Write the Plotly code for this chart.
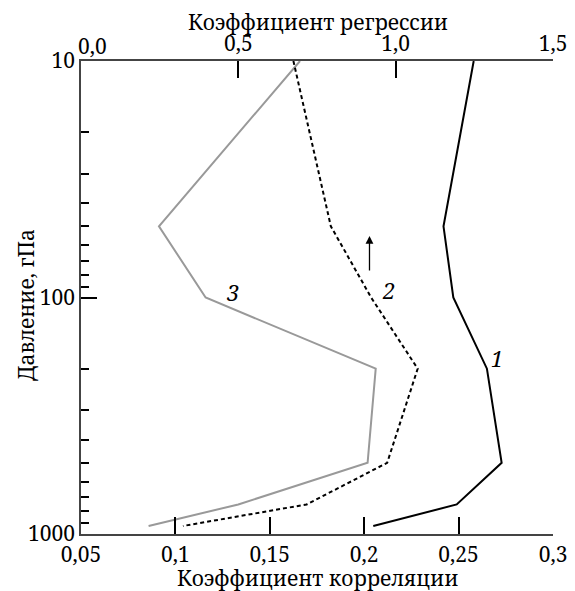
import plotly.graph_objects as go

# Data
levels = [10, 50, 100, 200, 500, 750, 925]          # pressure, hPa
corr_1 = [0.258, 0.242, 0.2472, 0.265, 0.2728, 0.249, 0.2048]  # curve 1 (correlation)
reg_2 = [0.675, 0.794, 0.922, 1.070, 0.973, 0.717, 0.324]      # curve 2 (regression)
corr_3 = [0.166, 0.0913, 0.116, 0.2061, 0.2018, 0.1333, 0.0858]  # curve 3 (correlation)

bottom_ticks = [0.05, 0.1, 0.15, 0.2, 0.25, 0.3]
bottom_text = ["0,05", "0,1", "0,15", "0,2", "0,25", "0,3"]
top_ticks = [0.0, 0.5, 1.0, 1.5]
top_text = ["", "0,5", "1,0", "1,5"]
y_ticks = [10, 100, 1000]
y_minor = [20, 30, 40, 50, 60, 70, 80, 90, 200, 300, 400, 500, 600, 700, 800, 900]

FONT = "Noto Serif"

fig = go.Figure()
fig.add_trace(go.Scatter(x=corr_1, y=levels, mode="lines", xaxis="x", yaxis="y",
                         line=dict(color="black", width=2), showlegend=False))
fig.add_trace(go.Scatter(x=reg_2, y=levels, mode="lines", xaxis="x2", yaxis="y",
                         line=dict(color="black", width=2, dash="4px,3px"), showlegend=False))
fig.add_trace(go.Scatter(x=corr_3, y=levels, mode="lines", xaxis="x", yaxis="y",
                         line=dict(color="#999999", width=2), showlegend=False))

axis_common = dict(showline=True, linecolor="#444444", linewidth=1.5, ticks="inside",
                   tickcolor="black", tickwidth=1.5, showgrid=False, zeroline=False,
                   automargin=False,
                   tickfont=dict(family=FONT, size=21, color="black"))

# page is drawn with an 8px body offset; plot area lands at x 81..553, y 61..534
fig.update_layout(
    width=567, height=583,
    margin=dict(l=73, r=22, t=53, b=57, autoexpand=False),
    paper_bgcolor="white", plot_bgcolor="white",
    font=dict(family=FONT, size=20, color="black"),
    xaxis=dict(range=[0.05, 0.3], tickvals=bottom_ticks, ticktext=bottom_text, ticklen=17,
               ticklabelstandoff=1, **axis_common),
    xaxis2=dict(range=[0, 1.5], overlaying="x", side="top", anchor="y",
                tickvals=top_ticks, ticktext=top_text, ticklen=17,
                ticklabelstandoff=0, **axis_common),
    yaxis=dict(type="log", range=[3, 1], tickvals=y_ticks, ticktext=["10", "100", "1000"],
               ticklen=16, ticklabelstandoff=0,
               minor=dict(tickvals=y_minor, ticks="inside", ticklen=8, tickcolor="black", tickwidth=1.5),
               **axis_common),
)

X0, X1, Y0, Y1 = 81, 553, 61, 534
def px(X):
    return (X - X0) / (X1 - X0)
def py(Y):
    return 1 - (Y - Y0) / (Y1 - Y0)

annotations = [
    dict(x=px(76), y=py(46), xref="paper", yref="paper", text="0,0", showarrow=False,
         xanchor="left", yanchor="middle", font=dict(family=FONT, size=21)),
    dict(x=px(317), y=py(578), xref="paper", yref="paper", text="Коэффициент корреляции",
         showarrow=False, xanchor="center", yanchor="middle", font=dict(family=FONT, size=21)),
    dict(x=px(318), y=py(22), xref="paper", yref="paper", text="Коэффициент регрессии",
         showarrow=False, xanchor="center", yanchor="middle", font=dict(family=FONT, size=21)),
    dict(x=px(26), y=py(305), xref="paper", yref="paper", text="Давление, гПа", textangle=-90,
         showarrow=False, xanchor="center", yanchor="middle", font=dict(family=FONT, size=21)),
    dict(x=0.2706, y=2.257, xref="x", yref="y", text="<i>1</i>", showarrow=False,
         font=dict(family=FONT, size=22)),
    dict(x=0.2129, y=1.968, xref="x", yref="y", text="<i>2</i>", showarrow=False,
         font=dict(family=FONT, size=22)),
    dict(x=0.1305, y=1.9755, xref="x", yref="y", text="<i>3</i>", showarrow=False,
         font=dict(family=FONT, size=22)),
    dict(x=0.2028, y=1.740, xref="x", yref="y", ax=0, ay=36, axref="pixel", ayref="pixel",
         text="", showarrow=True, arrowhead=2, arrowsize=1.2, arrowwidth=1.3, arrowcolor="black"),
]
fig.update_layout(annotations=annotations)

fig.write_html("out.html")
